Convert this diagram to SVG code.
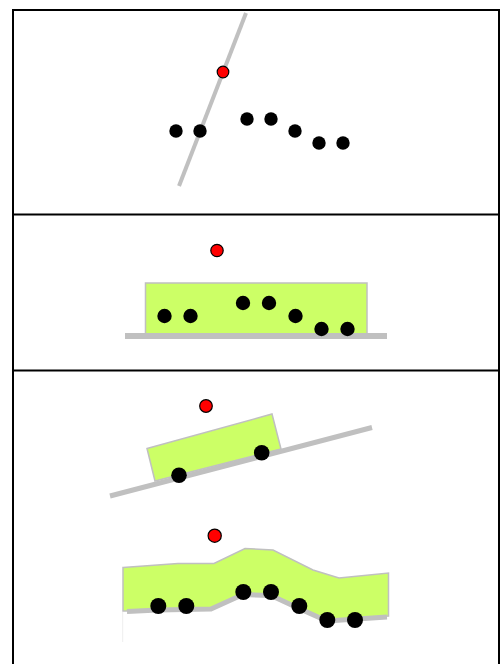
<svg xmlns="http://www.w3.org/2000/svg" width="501" height="664" viewBox="0 0 501 664">
<style>
.frame{fill:none;stroke:#000;stroke-width:2}
.div{stroke:#000;stroke-width:2}
.ground{fill:none;stroke:#c0c0c0;stroke-linejoin:round}
.body{fill:#ccff66;stroke:#c0c0c0;stroke-width:1.5}
.dot{fill:#000}
.red{fill:#ff0000;stroke:#000;stroke-width:1.2}
</style>
<rect width="501" height="664" fill="#fff"/>
<g id="frame">
<rect class="frame" x="13" y="10" width="486" height="670"/>
<line class="div" x1="13" y1="214.5" x2="499" y2="214.5"/>
<line class="div" x1="13" y1="370.5" x2="499" y2="370.5"/>
</g>
<g id="panel1">
<line class="ground" x1="246" y1="13" x2="179" y2="186" stroke-width="4"/>
<circle class="dot" cx="176" cy="131" r="6.7"/>
<circle class="dot" cx="200" cy="131" r="6.7"/>
<circle class="dot" cx="247" cy="119" r="6.7"/>
<circle class="dot" cx="271" cy="119" r="6.7"/>
<circle class="dot" cx="295" cy="131" r="6.7"/>
<circle class="dot" cx="319" cy="143" r="6.7"/>
<circle class="dot" cx="343" cy="143" r="6.7"/>
<circle class="red" cx="223" cy="72" r="5.8"/>
</g>
<g id="panel2">
<rect class="body" x="145.5" y="283" width="221.5" height="52"/>
<rect x="125" y="333" width="262" height="6" fill="#c0c0c0"/>
<circle class="dot" cx="164.5" cy="316" r="7.2"/>
<circle class="dot" cx="190.5" cy="316" r="7.2"/>
<circle class="dot" cx="243" cy="303" r="7.2"/>
<circle class="dot" cx="269" cy="303" r="7.2"/>
<circle class="dot" cx="295.5" cy="316" r="7.2"/>
<circle class="dot" cx="321.5" cy="329" r="7.2"/>
<circle class="dot" cx="347.5" cy="329" r="7.2"/>
<circle class="red" cx="217" cy="250.5" r="6.2"/>
</g>
<g id="panel3">
<polygon class="body" points="147,448.5 272,414 281,449 155,481"/>
<line class="ground" x1="110" y1="496" x2="372" y2="427.5" stroke-width="5"/>
<circle class="dot" cx="179" cy="475.3" r="7.8"/>
<circle class="dot" cx="261.7" cy="452.7" r="7.8"/>
<circle class="red" cx="206" cy="406" r="6.3"/>
</g>
<g id="panel4">
<line x1="122.7" y1="612" x2="122.7" y2="642" stroke="#eeeeee" stroke-width="1"/>
<polygon class="body" points="123,567.5 178,563.5 214,563.5 245,548.5 273,550 313,570 339,578 388.5,573 388.5,616 327,620 299,607 271,594 243,593.5 211,608 158,609.5 127,611 123,611"/>
<polyline class="ground" stroke-width="5" points="127,611.5 158,610 211,609 243,594.5 271,595.5 299,608.5 327,621 387,617"/>
<circle class="dot" cx="158.3" cy="606" r="8"/>
<circle class="dot" cx="186.3" cy="606" r="8"/>
<circle class="dot" cx="243.3" cy="592" r="8"/>
<circle class="dot" cx="271" cy="592" r="8"/>
<circle class="dot" cx="299.3" cy="606" r="8"/>
<circle class="dot" cx="327.3" cy="620" r="8"/>
<circle class="dot" cx="355" cy="620" r="8"/>
<circle class="red" cx="214.7" cy="535.7" r="6.6"/>
</g>
</svg>
